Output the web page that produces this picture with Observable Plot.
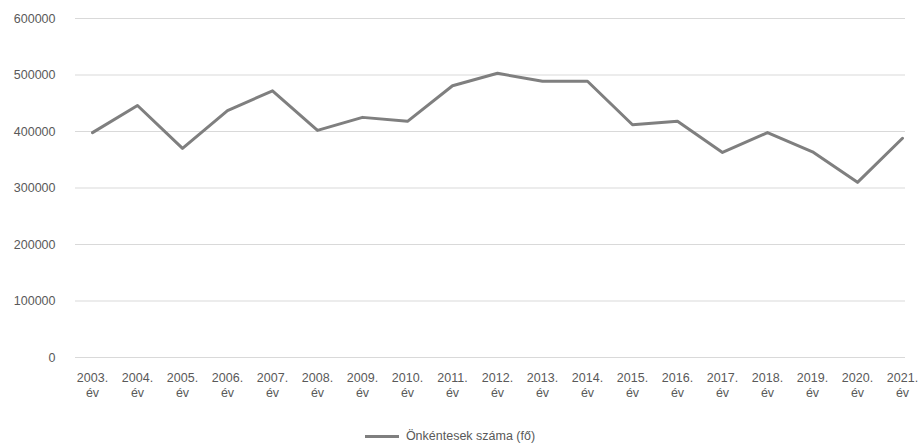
<!DOCTYPE html>
<html><head><meta charset="utf-8">
<script src="https://cdn.jsdelivr.net/npm/d3@7"></script>
<script src="https://cdn.jsdelivr.net/npm/@observablehq/plot@0.6"></script>
<style>
body{margin:0;background:#fff;font-family:"Liberation Sans",Arial,sans-serif;}
#legend{width:922px;height:24px;display:flex;justify-content:center;align-items:center;font-size:12.5px;color:#595959;box-sizing:border-box;padding-right:22px;}
#legend .sw{display:inline-block;width:34px;height:3px;background:#7f7f7f;margin-right:7px;}
</style>
</head><body>
<div id="chart"></div>
<div id="legend"><span class="sw"></span><span>Önkéntesek száma (fő)</span></div>
<script>
const years = [2003,2004,2005,2006,2007,2008,2009,2010,2011,2012,2013,2014,2015,2016,2017,2018,2019,2020,2021];
const volunteers = [398000,446000,370000,437000,472000,402000,425000,418000,481000,503000,489000,489000,412000,418000,363000,398000,364000,310000,388000];
const yTicks = [0,100000,200000,300000,400000,500000,600000];
const seriesName = "Önkéntesek száma (fő)";

const data = years.map((y,i)=>({year:y, value:volunteers[i]}));

const chart = Plot.plot({
  width: 922,
  height: 424,
  marginTop: 18,
  marginBottom: 67,
  marginLeft: 75,
  marginRight: 17,
  style: {fontFamily: "'Liberation Sans', Arial, sans-serif", fontSize: "12.5px", color: "#595959", background: "#fff"},
  x: {type: "point", domain: years, padding: 0, insetLeft: 15, insetRight: 2, label: null},
  y: {domain: [0, 600000], label: null},
  marks: [
    Plot.ruleY(yTicks, {stroke: "#d9d9d9", strokeWidth: 1}),
    Plot.axisY(yTicks, {tickSize: 0, tickPadding: 20, tickFormat: d3.format("d"), label: null, fill: "#595959"}),
    Plot.axisX(years, {tickSize: 0, tickPadding: 14, lineHeight: 1.2, tickFormat: d => d + ".\név", label: null, fill: "#595959"}),
    Plot.line(data, {x: "year", y: "value", stroke: "#7f7f7f", strokeWidth: 3, strokeLinejoin: "round"})
  ]
});
document.getElementById("chart").appendChild(chart);
</script>
</body></html>
